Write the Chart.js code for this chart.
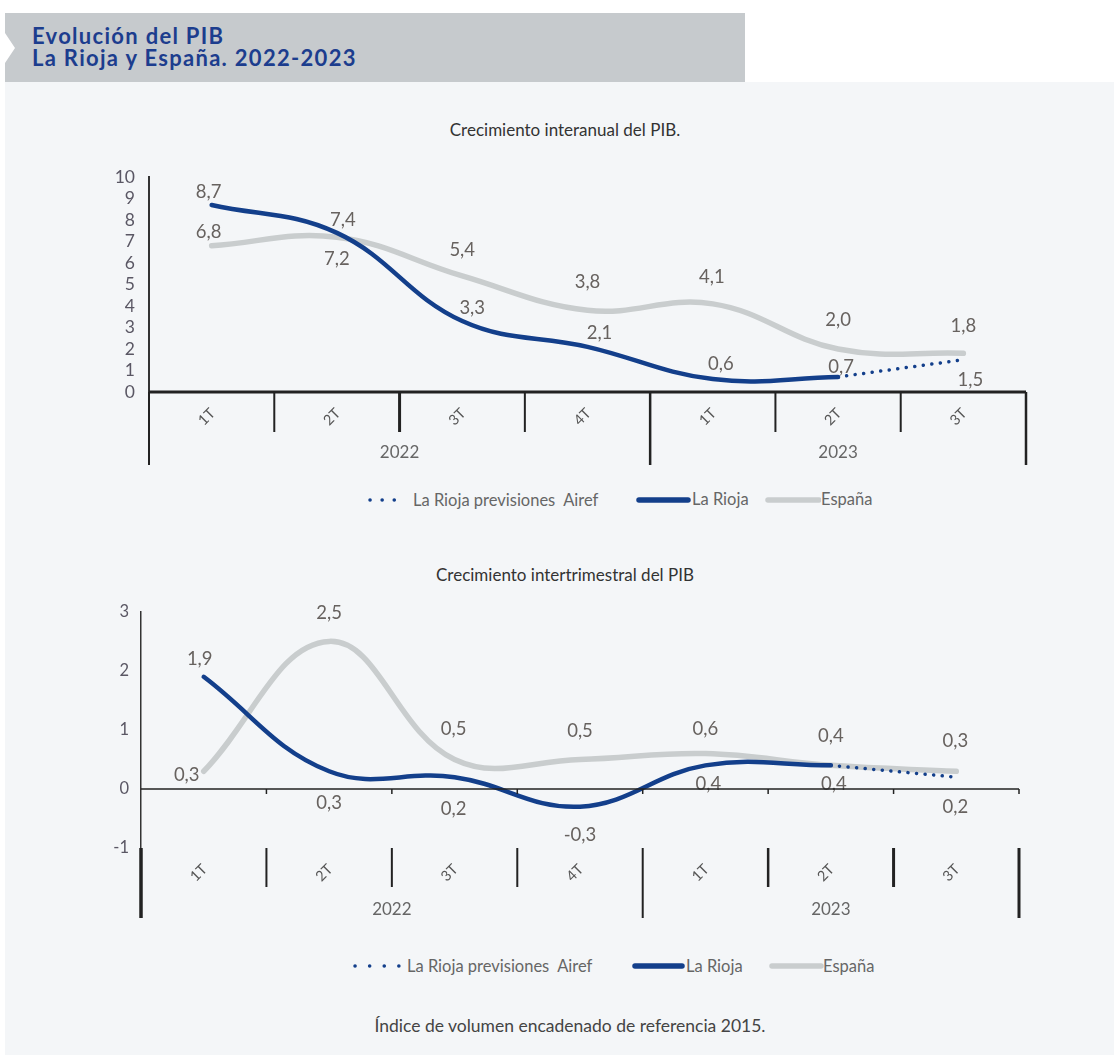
<!DOCTYPE html>
<html><head><meta charset="utf-8">
<script src="https://cdn.jsdelivr.net/npm/chart.js@4.4.0/dist/chart.umd.min.js"></script>
<style>
html,body{margin:0;padding:0;background:#fff;}
body{width:1114px;height:1058px;position:relative;overflow:hidden;font-family:Lato,"Open Sans",sans-serif;}
#bg{position:absolute;left:5px;top:82px;width:1109px;height:973px;background:#f4f6f8;}
#hdr{position:absolute;left:5px;top:13px;width:740px;height:69px;background:#c6cacd;clip-path:polygon(0 0,100% 0,100% 100%,0 100%,0 50px,10px 35px,0 20px);}
#hdr div{position:absolute;left:27px;color:#1c3d8e;font-weight:bold;font-size:22px;line-height:24px;letter-spacing:1.3px;white-space:nowrap;}
.ttl{position:absolute;left:16px;width:1098px;text-align:center;font-size:17px;color:#333;line-height:20px;}
canvas{position:absolute;left:0;}
.lt{position:absolute;font-size:16.5px;color:#666;line-height:20px;white-space:nowrap;}
.ls{position:absolute;}
#foot{position:absolute;left:26px;width:1088px;text-align:center;top:1015px;font-size:17.5px;color:#444;line-height:22px;}
</style></head>
<body>
<div id="bg"></div>
<div id="hdr"><div style="top:11px">Evolución del PIB</div><div style="top:33px">La Rioja y España. 2022-2023</div></div>
<div class="ttl" style="top:120px">Crecimiento interanual del PIB.</div>
<canvas id="c1" width="1114" height="380" style="top:100px"></canvas>
<div class="ttl" style="top:565px">Crecimiento intertrimestral del PIB</div>
<canvas id="c2" width="1114" height="340" style="top:590px"></canvas>

<svg class="ls" style="left:364px;top:492px" width="48" height="16"><line x1="6" y1="8" x2="42" y2="8" stroke="#133f8b" stroke-width="3.5" stroke-linecap="round" stroke-dasharray="0.1 12"/></svg>
<div class="lt" style="left:413px;top:490px">La Rioja previsiones&nbsp; Airef</div>
<svg class="ls" style="left:636px;top:492px" width="56" height="16"><line x1="3" y1="8" x2="52" y2="8" stroke="#133f8b" stroke-width="5.5" stroke-linecap="round"/></svg>
<div class="lt" style="left:692px;top:489px">La Rioja</div>
<svg class="ls" style="left:765px;top:492px" width="56" height="16"><line x1="3" y1="8" x2="54" y2="8" stroke="#c9cdce" stroke-width="5.5" stroke-linecap="round"/></svg>
<div class="lt" style="left:821px;top:489px">España</div>

<svg class="ls" style="left:349px;top:958px" width="56" height="16"><line x1="6" y1="8" x2="50" y2="8" stroke="#133f8b" stroke-width="3.5" stroke-linecap="round" stroke-dasharray="0.1 14.5"/></svg>
<div class="lt" style="left:407px;top:956px">La Rioja previsiones&nbsp; Airef</div>
<svg class="ls" style="left:632px;top:958px" width="56" height="16"><line x1="3" y1="8" x2="50" y2="8" stroke="#133f8b" stroke-width="5.5" stroke-linecap="round"/></svg>
<div class="lt" style="left:686px;top:956px">La Rioja</div>
<svg class="ls" style="left:769px;top:958px" width="56" height="16"><line x1="3" y1="8" x2="52" y2="8" stroke="#c9cdce" stroke-width="5.5" stroke-linecap="round"/></svg>
<div class="lt" style="left:823px;top:956px">España</div>

<div id="foot">Índice de volumen encadenado de referencia 2015.</div>

<script>
// ---- data ----
const quarters = ['1T','2T','3T','4T','1T','2T','3T'];
const years = ['2022','2022','2022','2022','2023','2023','2023'];

const interanualRioja = [8.7, 7.4, 3.3, 2.1, 0.6, 0.7, null];
const interanualPrev  = [null, null, null, null, null, 0.7, 1.5];
const interanualEsp   = [6.8, 7.2, 5.4, 3.8, 4.1, 2.0, 1.8];

const intertrimRioja = [1.9, 0.3, 0.2, -0.3, 0.4, 0.4, null];
const intertrimPrev  = [null, null, null, null, null, 0.4, 0.2];
const intertrimEsp   = [0.3, 2.5, 0.5, 0.5, 0.6, 0.4, 0.3];

const yTicksTop = [0,1,2,3,4,5,6,7,8,9,10];
const yTicksBottom = [-1,0,1,2,3];

// ---- styles ----
const BLUE = '#133f8b', GREY = '#c9cdce';
Chart.defaults.font.family = 'Lato, "Open Sans", sans-serif';

const fmt = v => v.toFixed(1).replace('.', ',');

const valueLabels = {
  id: 'valueLabels',
  afterDatasetsDraw(chart) {
    const ctx = chart.ctx;
    chart.data.datasets.forEach((ds, di) => {
      if (!ds.labelOffsets) return;
      const meta = chart.getDatasetMeta(di);
      meta.data.forEach((pt, i) => {
        const v = ds.data[i], off = ds.labelOffsets[i];
        if (v == null || !off) return;
        ctx.save();
        ctx.font = '18.5px Lato, "Open Sans", sans-serif';
        ctx.fillStyle = '#67625f';
        ctx.textAlign = 'center';
        ctx.textBaseline = 'middle';
        ctx.fillText(fmt(v), pt.x + off[0], pt.y + off[1]);
        ctx.restore();
      });
    });
  }
};

const categoryAxis = {
  id: 'categoryAxis',
  afterDraw(chart, args, o) {
    const ctx = chart.ctx, xs = chart.scales.x, ys = chart.scales.y, ca = chart.chartArea;
    const n = quarters.length;
    const zeroY = ys.getPixelForValue(0);
    const startY = o.fromBottom ? ca.bottom : zeroY;
    ctx.save();
    ctx.strokeStyle = '#222';
    ctx.lineWidth = o.zeroWidth;
    ctx.beginPath(); ctx.moveTo(ca.left, zeroY); ctx.lineTo(ca.right, zeroY); ctx.stroke();
    const bounds = [];
    for (let i = 0; i <= n; i++) {
      let bx;
      if (i === 0) bx = ca.left;
      else if (i === n) bx = ca.right;
      else bx = (xs.getPixelForValue(i - 1) + xs.getPixelForValue(i)) / 2;
      bounds.push(bx);
    }
    bounds.forEach((bx, i) => {
      const isLong = i === 0 || i === n || years[i] !== years[i - 1];
      ctx.lineWidth = o.widths[i];
      ctx.beginPath();
      ctx.moveTo(bx, startY);
      ctx.lineTo(bx, startY + (isLong ? o.longLen : o.shortLen));
      ctx.stroke();
      if (o.tickMark && i > 0) {
        ctx.lineWidth = 1.5;
        ctx.beginPath(); ctx.moveTo(bx, zeroY); ctx.lineTo(bx, zeroY + o.tickMark); ctx.stroke();
      }
    });
    ctx.fillStyle = '#555';
    ctx.font = '14.5px Lato, "Open Sans", sans-serif';
    ctx.textAlign = 'center'; ctx.textBaseline = 'middle';
    quarters.forEach((q, i) => {
      const x = xs.getPixelForValue(i) - 5;
      ctx.save();
      ctx.translate(x, startY + 25);
      ctx.rotate(-Math.PI / 4);
      ctx.fillText(q, 0, 0);
      ctx.restore();
    });
    ctx.fillStyle = '#666';
    ctx.font = '17px Lato, "Open Sans", sans-serif';
    let s = 0;
    for (let i = 1; i <= n; i++) {
      if (i === n || years[i] !== years[s]) {
        ctx.fillText(years[s], (bounds[s] + bounds[i]) / 2, startY + o.yearDy);
        s = i;
      }
    }
    ctx.restore();
  }
};

function makeChart(id, rioja, prev, esp, offs, yMin, yMax, ticksList, pad, yw, tickPad, tickFont, yBorderW, axisOpts) {
  return new Chart(document.getElementById(id), {
    type: 'line',
    data: {
      labels: quarters,
      datasets: [
        { label: 'La Rioja previsiones  Airef', data: prev, borderColor: BLUE, borderWidth: 3.5,
          borderDash: [0.1, 8.5], borderCapStyle: 'round', pointRadius: 0, tension: 0, order: 0,
          labelOffsets: offs.prev },
        { label: 'La Rioja', data: rioja, borderColor: BLUE, borderWidth: 4.5, pointRadius: 0,
          tension: 0.4, borderCapStyle: 'round', order: 1, labelOffsets: offs.rioja },
        { label: 'España', data: esp, borderColor: GREY, borderWidth: 5.5, pointRadius: 0,
          tension: 0.4, borderCapStyle: 'round', order: 2, labelOffsets: offs.esp }
      ]
    },
    options: {
      responsive: false, animation: false, devicePixelRatio: 1,
      layout: { padding: pad },
      plugins: { legend: { display: false }, tooltip: { enabled: false }, categoryAxis: axisOpts },
      scales: {
        x: { type: 'category', display: false, offset: true },
        y: {
          min: yMin, max: yMax,
          afterFit: s => { s.width = yw; },
          afterBuildTicks: s => { s.ticks = ticksList.map(v => ({ value: v })); },
          grid: { display: false, drawTicks: false },
          border: { display: true, color: '#333', width: yBorderW },
          ticks: { autoSkip: false, padding: tickPad, color: '#5a5764', font: { size: tickFont }, callback: v => String(v) }
        }
      }
    },
    plugins: [valueLabels, categoryAxis]
  });
}

makeChart('c1', interanualRioja, interanualPrev, interanualEsp, {
  rioja: [[-3,-13],[6,-13],[10,-13],[12,-14],[8,-15],[3,-10],null],
  esp:   [[-3,-14],[0,22],[0,-26],[0,-28],[-1,-27],[0,-29],[0,-27]],
  prev:  [null,null,null,null,null,null,[7,20]]
}, 0, 10, yTicksTop, { top: 77, bottom: 88, left: 109, right: 88 }, 40, 14, 17.5, 2,
{ fromBottom: false, zeroWidth: 3, shortLen: 40, longLen: 73, tickMark: 0, yearDy: 61,
  widths: [2, 2, 3, 2, 2.5, 2, 2, 2.5] });

makeChart('c2', intertrimRioja, intertrimPrev, intertrimEsp, {
  rioja: [[-4,-18],[0,32],[-1,32],[0,28],[3,19],[3,19],null],
  esp:   [[-17,4],[0,-28],[-1,-30],[0,-28],[0,-25],[0,-29],[-1,-30]],
  prev:  [null,null,null,null,null,null,[-1,30]]
}, -1, 3, yTicksBottom, { top: 16, bottom: 82, left: 101, right: 95 }, 40, 12, 16.5, 1.5,
{ fromBottom: true, zeroWidth: 1.5, shortLen: 39, longLen: 70, tickMark: 5, yearDy: 62,
  widths: [3.5, 2, 2, 2, 2, 2.5, 3, 3] });
</script>
</body></html>
